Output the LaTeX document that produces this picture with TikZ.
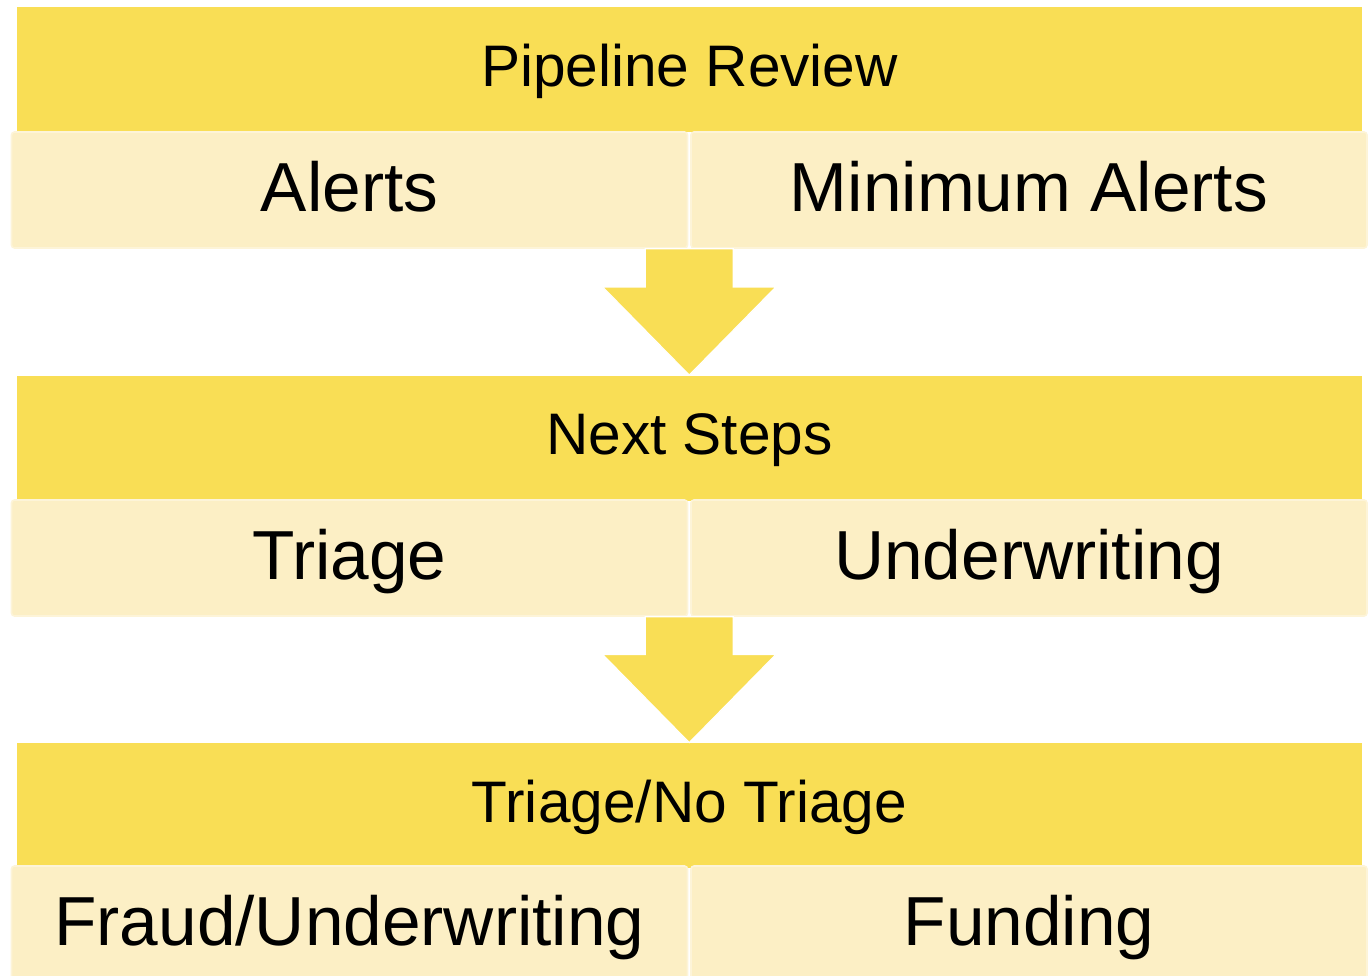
\documentclass[tikz,border=0pt]{standalone}
\usepackage{fontspec}
\setmainfont{Liberation Sans}
\usetikzlibrary{calc}

\definecolor{headyellow}{RGB}{249,222,85}
\definecolor{subyellow}{RGB}{252,239,197}
\definecolor{subedge}{RGB}{253,244,216}

% fat down arrow: #1 top of the shaft, #2 the tip
\newcommand{\fatarrow}[2]{%
  \filldraw[arrowblock] ($(#1)+(-44,0)$) -- ($(#1)+(44,0)$) -- ($(#2)+(44,-88)$)
    -- ($(#2)+(86.5,-88)$) -- (#2) -- ($(#2)+(-86.5,-88)$) -- ($(#2)+(-44,-88)$) -- cycle;}

\begin{document}
\begin{tikzpicture}[x=0.5pt, y=-0.5pt,
  head/.style={fill=headyellow, minimum width=672.5pt, minimum height=62.5pt, inner sep=0pt,
    font=\fontsize{29.3}{35}\selectfont, text height=21pt, text depth=4.5pt},
  sub/.style={fill=subyellow, draw=subedge, line width=0.8pt, rounded corners=1.5pt,
    minimum width=338pt, minimum height=58pt, inner sep=0pt,
    font=\fontsize{34.7}{41}\selectfont, text height=24.8pt, text depth=3.5pt},
  arrowblock/.style={fill=headyellow, draw=white, line width=0.6pt}]

\useasboundingbox (0,0) rectangle (1371,975);
\clip (0,0) rectangle (1371,975);

% first block
\node[head] (review) at (689.5,69.5) {Pipeline Review};
\node[sub] (alerts) at (349.5,190) {Alerts};
\node[sub] (minalerts) at (1029,190) {Minimum Alerts};

% second block
\node[head] (nextsteps) at (689.5,438) {Next Steps};
\node[sub] (triage) at (349.5,558) {Triage};
\node[sub] (underwriting) at (1029,558) {Underwriting};

% third block
\node[head] (notriage) at (689.5,805.5) {Triage/No Triage};
\node[sub] (fraud) at (349.5,924) {Fraud/Underwriting};
\node[sub] (funding) at (1029,924) {Funding};

% arrows between the blocks
\coordinate (top1) at ($(alerts.south east)!0.5!(minalerts.south west)$);
\coordinate (tip1) at (top1 |- nextsteps.north);
\fatarrow{top1}{tip1}

\coordinate (top2) at ($(triage.south east)!0.5!(underwriting.south west)$);
\coordinate (tip2) at (top2 |- notriage.north);
\fatarrow{top2}{tip2}

\end{tikzpicture}
\end{document}
